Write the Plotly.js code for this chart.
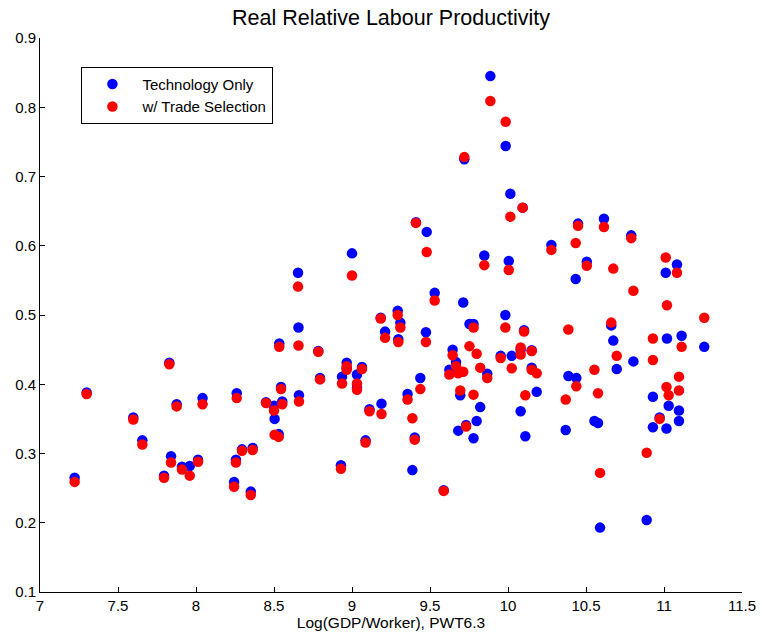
<!DOCTYPE html>
<html>
<head>
<meta charset="utf-8">
<script src="https://cdn.plot.ly/plotly-3.0.1.min.js"></script>
<style>
  html, body { margin: 0; padding: 0; background: #fff; }
  #chart { width: 762px; height: 641px; }
</style>
</head>
<body>
<div id="chart"></div>
<script>
// Log GDP per worker (PWT 6.3), one entry per country
const gdp = [
  7.222, 7.299, 7.598, 7.656, 7.795, 7.829, 7.840, 7.876, 7.910, 7.960,
  8.013, 8.042, 8.244, 8.256, 8.261, 8.295, 8.351, 8.363, 8.449, 8.500,
  8.504, 8.530, 8.534, 8.545, 8.553, 8.654, 8.657, 8.660, 8.784, 8.795,
  8.929, 8.936, 8.966, 8.966, 9.000, 9.032, 9.032, 9.064, 9.087, 9.112,
  9.184, 9.189, 9.212, 9.293, 9.297, 9.310, 9.356, 9.387, 9.402, 9.410,
  9.438, 9.474, 9.479, 9.530, 9.588, 9.624, 9.645, 9.667, 9.681, 9.694,
  9.713, 9.720, 9.731, 9.753, 9.779, 9.779, 9.799, 9.822, 9.848, 9.867,
  9.887, 9.953, 9.983, 9.985, 10.005, 10.015, 10.024, 10.081, 10.081, 10.094,
  10.103, 10.111, 10.152, 10.152, 10.184, 10.278, 10.370, 10.387, 10.434, 10.438,
  10.449, 10.505, 10.554, 10.577, 10.590, 10.615, 10.662, 10.675, 10.697, 10.790,
  10.804, 10.889, 10.929, 10.929, 10.972, 11.011, 11.016, 11.019, 11.030, 11.083,
  11.096, 11.096, 11.113, 11.258
];

// Relative labour productivity, technology differences only
const techOnly = [
  0.265, 0.388, 0.352, 0.319, 0.268, 0.431, 0.296, 0.371, 0.281, 0.282,
  0.291, 0.380, 0.259, 0.291, 0.387, 0.306, 0.245, 0.308, 0.374, 0.369,
  0.350, 0.328, 0.459, 0.396, 0.375, 0.561, 0.482, 0.384, 0.448, 0.409,
  0.283, 0.411, 0.431, 0.423, 0.589, 0.414, 0.395, 0.425, 0.319, 0.364,
  0.496, 0.372, 0.476, 0.506, 0.465, 0.489, 0.386, 0.276, 0.323, 0.634,
  0.409, 0.475, 0.620, 0.532, 0.247, 0.421, 0.450, 0.432, 0.333, 0.384,
  0.518, 0.725, 0.341, 0.487, 0.487, 0.322, 0.347, 0.367, 0.586, 0.415,
  0.845, 0.441, 0.500, 0.744, 0.578, 0.675, 0.441, 0.361, 0.450, 0.655,
  0.478, 0.325, 0.449, 0.424, 0.389, 0.601, 0.334, 0.412, 0.552, 0.409,
  0.632, 0.577, 0.347, 0.344, 0.193, 0.639, 0.485, 0.463, 0.422, 0.615,
  0.433, 0.204, 0.382, 0.338, 0.352, 0.561, 0.336, 0.466, 0.369, 0.573,
  0.362, 0.347, 0.470, 0.454
];

// Relative labour productivity, with trade selection
const tradeSel = [
  0.259, 0.386, 0.349, 0.313, 0.265, 0.429, 0.287, 0.368, 0.277, 0.268,
  0.288, 0.371, 0.252, 0.287, 0.380, 0.304, 0.240, 0.305, 0.373, 0.362,
  0.327, 0.324, 0.454, 0.393, 0.371, 0.541, 0.456, 0.375, 0.447, 0.407,
  0.278, 0.401, 0.426, 0.421, 0.557, 0.401, 0.392, 0.422, 0.316, 0.361,
  0.495, 0.357, 0.467, 0.500, 0.461, 0.482, 0.378, 0.351, 0.320, 0.633,
  0.393, 0.461, 0.591, 0.521, 0.246, 0.414, 0.442, 0.426, 0.416, 0.391,
  0.418, 0.728, 0.339, 0.455, 0.482, 0.385, 0.444, 0.424, 0.572, 0.409,
  0.809, 0.438, 0.482, 0.779, 0.565, 0.642, 0.423, 0.443, 0.453, 0.655,
  0.476, 0.384, 0.448, 0.421, 0.416, 0.594, 0.378, 0.479, 0.604, 0.397,
  0.629, 0.571, 0.421, 0.387, 0.272, 0.627, 0.489, 0.567, 0.441, 0.611,
  0.535, 0.301, 0.435, 0.466, 0.350, 0.583, 0.396, 0.514, 0.384, 0.561,
  0.411, 0.391, 0.454, 0.496
];

const xTicks = [7, 7.5, 8, 8.5, 9, 9.5, 10, 10.5, 11, 11.5];
const xTickText = ['7', '7.5', '8', '8.5', '9', '9.5', '10', '10.5', '11', '11.5'];
const yTicks = [0.1, 0.2, 0.3, 0.4, 0.5, 0.6, 0.7, 0.8, 0.9];
const yTickText = ['0.1', '0.2', '0.3', '0.4', '0.5', '0.6', '0.7', '0.8', '0.9'];

const FONT = 'Liberation Sans, Arial, Helvetica, sans-serif';

const traces = [
  {
    type: 'scatter', mode: 'markers', name: 'Technology Only',
    x: gdp, y: techOnly,
    marker: { color: 'rgb(0,0,255)', size: 10.5, line: { width: 0 } }
  },
  {
    type: 'scatter', mode: 'markers', name: 'w/ Trade Selection',
    x: gdp, y: tradeSel,
    marker: { color: 'rgb(255,0,0)', size: 10.5, line: { width: 0 } }
  }
];

const axisCommon = {
  showline: true, linecolor: '#000', linewidth: 1,
  showgrid: false, zeroline: false,
  ticks: 'inside', ticklen: 5, tickwidth: 1, tickcolor: '#000',
  tickfont: { family: FONT, size: 15, color: '#000' },
  tickmode: 'array', fixedrange: true
};

const layout = {
  width: 762, height: 641,
  margin: { l: 40, r: 20, t: 38, b: 49 },
  paper_bgcolor: '#fff', plot_bgcolor: '#fff',
  font: { family: FONT, color: '#000' },
  title: {
    text: 'Real Relative Labour Productivity',
    font: { family: FONT, size: 21.5, color: '#000' },
    x: 0.5, xanchor: 'center', xref: 'paper',
    y: 0.973, yanchor: 'middle', yref: 'container'
  },
  xaxis: Object.assign({}, axisCommon, {
    range: [7, 11.5], tickvals: xTicks, ticktext: xTickText,
    title: { text: 'Log(GDP/Worker), PWT6.3', font: { family: FONT, size: 15.5, color: '#000' }, standoff: 4 }
  }),
  yaxis: Object.assign({}, axisCommon, {
    range: [0.1, 0.9], tickvals: yTicks, ticktext: yTickText
  }),
  showlegend: true,
  legend: {
    x: 0.059, y: 0.948, xanchor: 'left', yanchor: 'top',
    bgcolor: '#fff', bordercolor: '#000', borderwidth: 1,
    font: { family: FONT, size: 15, color: '#000' },
    itemwidth: 50, tracegroupgap: 0
  }
};

Plotly.newPlot('chart', traces, layout, { displayModeBar: false, staticPlot: true });
</script>
</body>
</html>
